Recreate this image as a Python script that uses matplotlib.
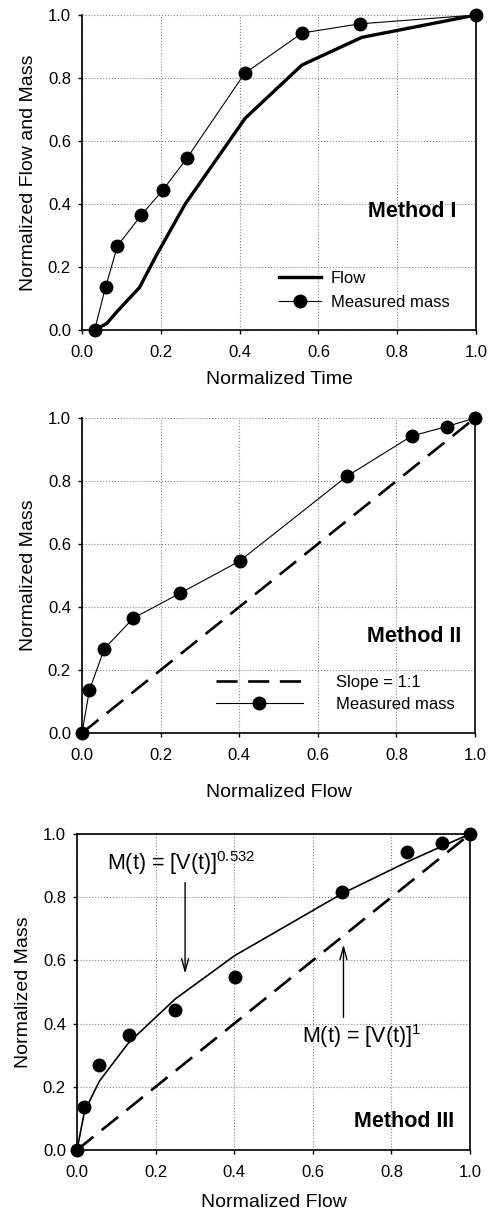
import matplotlib
matplotlib.use("Agg")
import matplotlib.pyplot as plt

plt.rcParams['font.family'] = ['Liberation Sans', 'DejaVu Sans']
plt.rcParams['mathtext.fontset'] = 'custom'
plt.rcParams['mathtext.rm'] = 'Liberation Sans'
plt.rcParams['mathtext.it'] = 'Liberation Sans:italic'
plt.rcParams['mathtext.bf'] = 'Liberation Sans:bold'

# Method I: normalized time vs normalized flow / mass
time_mass = [0.032, 0.060, 0.090, 0.150, 0.205, 0.266, 0.413, 0.559, 0.705, 1.0]
mass = [0.0, 0.137, 0.267, 0.364, 0.444, 0.545, 0.815, 0.943, 0.972, 1.0]
time_flow = [0.032, 0.063, 0.090, 0.146, 0.190, 0.262, 0.414, 0.558, 0.710, 1.0]
flow_t = [0.0, 0.021, 0.060, 0.135, 0.240, 0.400, 0.672, 0.841, 0.929, 1.0]

# Method II / III: normalized flow vs normalized mass
norm_flow = [0.0, 0.019, 0.057, 0.131, 0.250, 0.401, 0.674, 0.839, 0.928, 1.0]
norm_mass = [0.0, 0.137, 0.268, 0.365, 0.444, 0.546, 0.815, 0.943, 0.973, 1.0]
one_to_one = [0.0, 1.0]

# Method III fitted curve M = V^0.532 (read at the same flow values)
fit_mass = [0.0, 0.122, 0.218, 0.339, 0.478, 0.615, 0.811, 0.911, 0.961, 1.0]

ticks = [0.0, 0.2, 0.4, 0.6, 0.8, 1.0]
tick_labels = ['0.0', '0.2', '0.4', '0.6', '0.8', '1.0']

fig = plt.figure(figsize=(4.89, 12.11), dpi=100)
ax1 = fig.add_axes([0.1677, 0.7275, 0.8057, 0.2601])
ax2 = fig.add_axes([0.1677, 0.3947, 0.8037, 0.2601])
ax3 = fig.add_axes([0.1575, 0.0504, 0.8037, 0.2609])


def style(ax, xlabel, ylabel, box=False):
    ax.set_xlim(0, 1)
    ax.set_ylim(0, 1)
    ax.set_xticks(ticks)
    ax.set_yticks(ticks)
    ax.set_xticklabels(tick_labels)
    ax.set_yticklabels(tick_labels)
    ax.tick_params(direction='out', length=3, width=1, labelsize=12, colors='black')
    ax.tick_params(axis='x', pad=8)
    ax.tick_params(axis='y', pad=5)
    ax.grid(True, linestyle=':', color='#888888', linewidth=0.8)
    ax.set_axisbelow(True)
    for s in ['left', 'bottom', 'right']:
        ax.spines[s].set_linewidth(1.2)
    ax.spines['top'].set_visible(box)
    ax.spines['top'].set_linewidth(1.2)
    ax.set_xlabel(xlabel, fontsize=14, labelpad=8)
    ax.set_ylabel(ylabel, fontsize=14, labelpad=8)


# Panel 1
ax1.plot(time_flow, flow_t, color='black', lw=2.4, label='Flow', clip_on=False)
ax1.plot(time_mass, mass, color='black', lw=0.8, marker='o', ms=9,
         label='Measured mass', clip_on=False, zorder=3)
style(ax1, 'Normalized Time', 'Normalized Flow and Mass')
ax1.text(0.837, 0.376, 'Method I', fontsize=15.5, fontweight='bold',
         ha='center', va='center', transform=ax1.transAxes)
ax1.legend(loc='upper left', bbox_to_anchor=(0.48, 0.213), frameon=False,
           fontsize=12, handlelength=2.5, handletextpad=0.6, borderpad=0,
           labelspacing=0.5)

# Panel 2
ax2.plot(one_to_one, one_to_one, color='black', lw=1.9, dashes=(8, 4),
         label='Slope = 1:1')
ax2.plot(norm_flow, norm_mass, color='black', lw=0.8, marker='o', ms=9,
         label='Measured mass', clip_on=False, zorder=3)
style(ax2, 'Normalized Flow', 'Normalized Mass')
ax2.text(0.845, 0.307, 'Method II', fontsize=15.5, fontweight='bold',
         ha='center', va='center', transform=ax2.transAxes)
ax2.legend(loc='upper left', bbox_to_anchor=(0.32, 0.21), frameon=False,
           fontsize=12, handlelength=5.2, handletextpad=2.0, borderpad=0,
           labelspacing=0.4)
ax2.xaxis.labelpad = 15

# Panel 3
ax3.plot(one_to_one, one_to_one, color='black', lw=1.9, dashes=(8, 4))
ax3.plot(norm_flow, fit_mass, color='black', lw=1.2)
ax3.plot(norm_flow, norm_mass, linestyle='none', color='black', marker='o',
         ms=9, clip_on=False, zorder=3)
style(ax3, 'Normalized Flow', 'Normalized Mass', box=True)
ax3.xaxis.labelpad = 10
ax3.text(0.832, 0.09, 'Method III', fontsize=15.5, fontweight='bold',
         ha='center', va='center', transform=ax3.transAxes)
ax3.text(0.076, 0.907, r'M(t) = [V(t)]$^{0.532}$', fontsize=15.5,
         ha='left', va='center')
ax3.annotate('', xy=(0.275, 0.549), xytext=(0.275, 0.855),
             arrowprops=dict(arrowstyle='->, head_length=0.9, head_width=0.25',
                             color='black', lw=1))
ax3.text(0.572, 0.359, r'M(t) = [V(t)]$^{1}$', fontsize=15.5,
         ha='left', va='center')
ax3.annotate('', xy=(0.678, 0.659), xytext=(0.678, 0.411),
             arrowprops=dict(arrowstyle='->, head_length=0.9, head_width=0.25',
                             color='black', lw=1))

fig.savefig('out.png', dpi=100)
